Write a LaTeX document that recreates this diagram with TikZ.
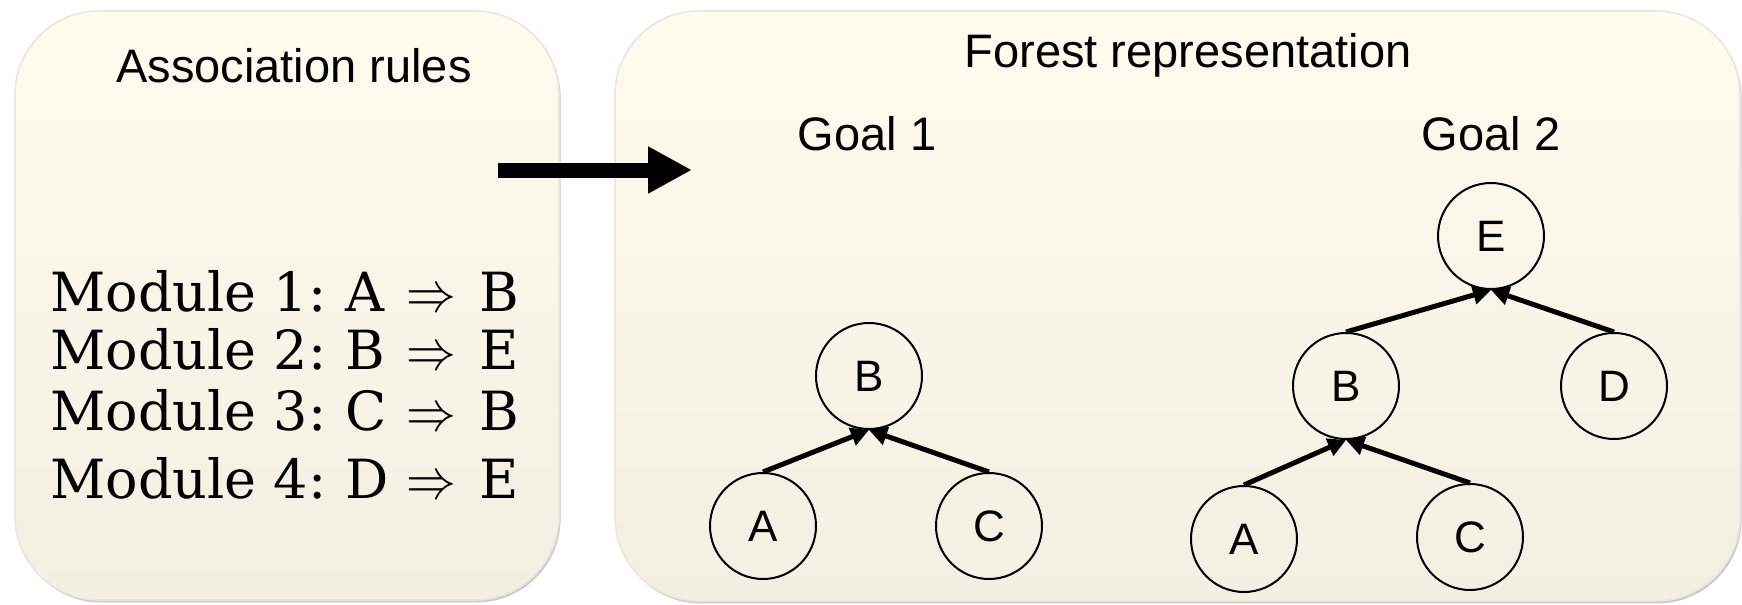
\documentclass[tikz,border=0pt]{standalone}
\usepackage{fix-cm}
\usepackage{graphicx}
\usepackage{fontspec}
\newfontfamily\arialf{Liberation Sans}
\newfontfamily\serf{DejaVu Serif}
\usetikzlibrary{arrows.meta,shadows}
\definecolor{paneltop}{HTML}{FEFCEE}
\definecolor{panelbot}{HTML}{F2EFE3}
\definecolor{panelline}{HTML}{E9E7DE}
\newcommand{\rulerow}[3]{\makebox[147.5pt][l]{Module #1:}\makebox[30.5pt][l]{#2}\makebox[36.5pt][l]{\scalebox{0.92}[1.05]{$\Rightarrow$}}#3}
\tikzset{
  panel/.style={draw=panelline, line width=0.8pt, rounded corners=42pt,
    top color=paneltop, bottom color=panelbot, inner sep=0pt,
    drop shadow={shadow xshift=0.8pt, shadow yshift=-1.2pt, opacity=0.35, fill=black!60}},
  title/.style={font=\arialf\fontsize{23.5}{28}\selectfont, anchor=base, inner sep=0pt},
  modline/.style={font=\serf\fontsize{27}{32}\selectfont, anchor=base west, inner sep=0pt},
  vert/.style={draw, circle, line width=1pt, minimum size=53pt, inner sep=0pt,
    font=\arialf\fontsize{22}{26}\selectfont},
  edge/.style={line width=2.5pt, -{Triangle[length=9pt,width=9pt]}},
  bigarrow/.style={line width=7.5pt, -{Triangle[length=22pt,width=22pt]}}
}
\begin{document}
\begin{tikzpicture}[x=0.5pt,y=-0.5pt]
\useasboundingbox (0,0) rectangle (1742,605);
% panels
\node[panel, minimum width=272pt, minimum height=294.5pt] (left) at (287,305.5) {};
\node[panel, minimum width=562.5pt, minimum height=295pt] (right) at (1177.5,306) {};
% titles
\node[title] (t1) at (294,83) {Association rules};
\node[title] (t2) at (1188,67) {Forest representation};
\node[title] (g1) at (867,150) {Goal 1};
\node[title] (g2) at (1491,150) {Goal 2};
% rules
\node[modline] (m1) at (50,311) {\rulerow{1}{A}{B}};
\node[modline] (m2) at (50,369) {\rulerow{2}{B}{E}};
\node[modline] (m3) at (50,430) {\rulerow{3}{C}{B}};
\node[modline] (m4) at (50,498) {\rulerow{4}{D}{E}};
% big arrow
\coordinate (as) at (498,170);
\coordinate (ae) at (692,170);
\draw[bigarrow] (as) -- (ae);
% goal 1 tree
\node[vert] (b1) at (869,376) {B};
\node[vert] (a1) at (763,526) {A};
\node[vert] (c1) at (989,526) {C};
\draw[edge] (a1.north) -- (b1.south);
\draw[edge] (c1.north) -- (b1.south);
% goal 2 tree
\node[vert] (e2) at (1491,236) {E};
\node[vert] (b2) at (1346,386) {B};
\node[vert] (d2) at (1614,386) {D};
\node[vert] (a2) at (1244,539) {A};
\node[vert] (c2) at (1470,537) {C};
\draw[edge] (b2.north) -- (e2.south);
\draw[edge] (d2.north) -- (e2.south);
\draw[edge] (a2.north) -- (b2.south);
\draw[edge] (c2.north) -- (b2.south);
\end{tikzpicture}
\end{document}
